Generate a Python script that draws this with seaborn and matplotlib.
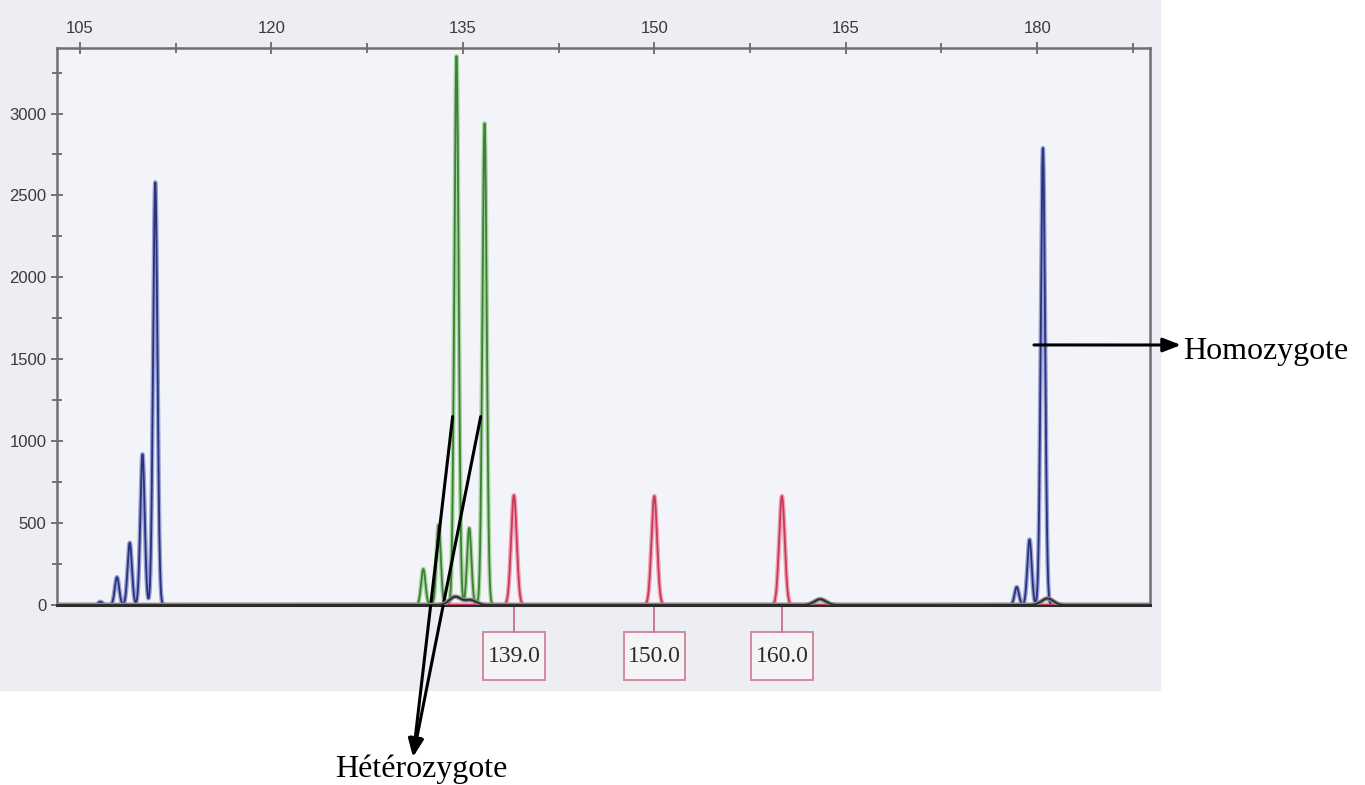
import numpy as np
import pandas as pd
import matplotlib
matplotlib.use("Agg")
import matplotlib.pyplot as plt
from matplotlib.patches import Rectangle
import seaborn as sns

# peak data (size in bp, height in RFU)
blue_pos = [106.6, 107.9, 108.9, 109.9, 110.9, 178.4, 179.4, 180.45]
blue_height = [20, 170, 380, 920, 2580, 110, 400, 2790]
green_pos = [131.9, 133.1, 134.5, 135.5, 136.7]
green_height = [220, 490, 3350, 470, 2940]
red_pos = [139.0, 150.0, 160.0]
red_height = [670, 665, 665]
red_labels = ["139.0", "150.0", "160.0"]
black_pos = [134.4, 135.6, 163.0, 180.8]
black_height = [50, 30, 35, 40]

x_ticks = [105, 120, 135, 150, 165, 180]
y_ticks = [0, 500, 1000, 1500, 2000, 2500, 3000]

sns.set_theme(style="white")
plt.rcParams["font.family"] = ["Liberation Sans", "DejaVu Sans"]

fig = plt.figure(figsize=(13.65, 7.85), dpi=100)
# scanned area background
fig.patches.append(Rectangle((0, 1 - 690 / 785), 1160 / 1365, 690 / 785,
                             transform=fig.transFigure, color="#eceef4", zorder=-5))
ax = fig.add_axes([57 / 1365, 1 - 605 / 785, (1150 - 57) / 1365, (605 - 48) / 785])
ax.set_facecolor("#f3f4f9")

xs = np.linspace(103.2, 188.84, 9000)


def trace(pos, heights, sigma):
    y = np.zeros_like(xs)
    for p, h in zip(pos, heights):
        y += h * np.exp(-0.5 * ((xs - p) / sigma) ** 2)
    return y


traces = [
    (trace(blue_pos, blue_height, 0.17), "#9aa2d4", "#28327e", 2),
    (trace(green_pos, green_height, 0.17), "#a9d6a0", "#3d7f38", 2),
    (trace(red_pos, red_height, 0.22), "#efa3b4", "#c83a5c", 2),
    (trace(black_pos, black_height, 0.45), "#8a8a8a", "#2b2b2b", 6),
]
for ys, light, dark, z in traces:
    df = pd.DataFrame({"size": xs, "rfu": ys})
    sns.lineplot(data=df, x="size", y="rfu", ax=ax, color=light, lw=3.2,
                 estimator=None, sort=False, zorder=z)
    sns.lineplot(data=df, x="size", y="rfu", ax=ax, color=dark, lw=1.3,
                 estimator=None, sort=False, zorder=z + 1)

ax.set_xlim(103.2, 188.84)
ax.set_ylim(0, 3400)
ax.set_xlabel("")
ax.set_ylabel("")

ax.xaxis.tick_top()
ax.set_xticks(x_ticks)
ax.set_xticks([112.5, 127.5, 142.5, 157.5, 172.5, 187.5], minor=True)
ax.set_yticks(y_ticks)
ax.set_yticks(np.arange(250, 3400, 500), minor=True)
ax.tick_params(which="both", direction="inout", color="#6a6a6a", width=1.3,
               labelsize=12, labelcolor="#3a3a3a")
ax.tick_params(which="major", length=9)
ax.tick_params(which="minor", length=7)
ax.tick_params(axis="x", which="both", top=True, bottom=False, pad=4)
ax.tick_params(axis="y", which="both", left=True, pad=3)

for side in ["top", "left", "right"]:
    ax.spines[side].set_color("#6f6f6f")
    ax.spines[side].set_linewidth(1.8)
ax.spines["bottom"].set_color("#2b2b2b")
ax.spines["bottom"].set_linewidth(2.2)

# size standard labels under the red peaks
trans = ax.get_xaxis_transform()
box_w, box_top, box_bot = 4.8, -0.0485, -0.1347
for p, lab in zip(red_pos, red_labels):
    ax.plot([p, p], [0, box_top], transform=trans, color="#c8708a", lw=1.3,
            clip_on=False)
    ax.add_patch(Rectangle((p - box_w / 2, box_bot), box_w, box_top - box_bot,
                           transform=trans, fc="#f6f3f7", ec="#d58a9c", lw=1.4,
                           clip_on=False))
    ax.text(p, (box_top + box_bot) / 2, lab, transform=trans, ha="center",
            va="center", fontsize=17, family="Liberation Serif", color="#2a2a2a")

# annotations
tip_het = (413 / 1365, 1 - 757 / 785)
for px in [134.2, 136.4]:
    ax.annotate("", xy=tip_het, xycoords="figure fraction",
                xytext=(px, 1150), textcoords="data",
                arrowprops=dict(arrowstyle="-|>,head_length=0.9,head_width=0.35",
                                color="black", lw=2.2, shrinkA=0, shrinkB=0))
fig.text(421 / 1365, 1 - 777 / 785, "Hétérozygote", ha="center", va="baseline",
         fontsize=23, family="Liberation Serif", color="black")

ax.annotate("", xy=(1181 / 1365, 1 - 345 / 785), xycoords="figure fraction",
            xytext=(179.75, (605 - 345) / 0.1638), textcoords="data",
            arrowprops=dict(arrowstyle="-|>,head_length=0.9,head_width=0.35",
                            color="black", lw=2.2, shrinkA=0, shrinkB=0))
fig.text(1183 / 1365, 1 - 359 / 785, "Homozygote", ha="left", va="baseline",
         fontsize=23, family="Liberation Serif", color="black")

fig.savefig("out.png", dpi=100, facecolor="white")
